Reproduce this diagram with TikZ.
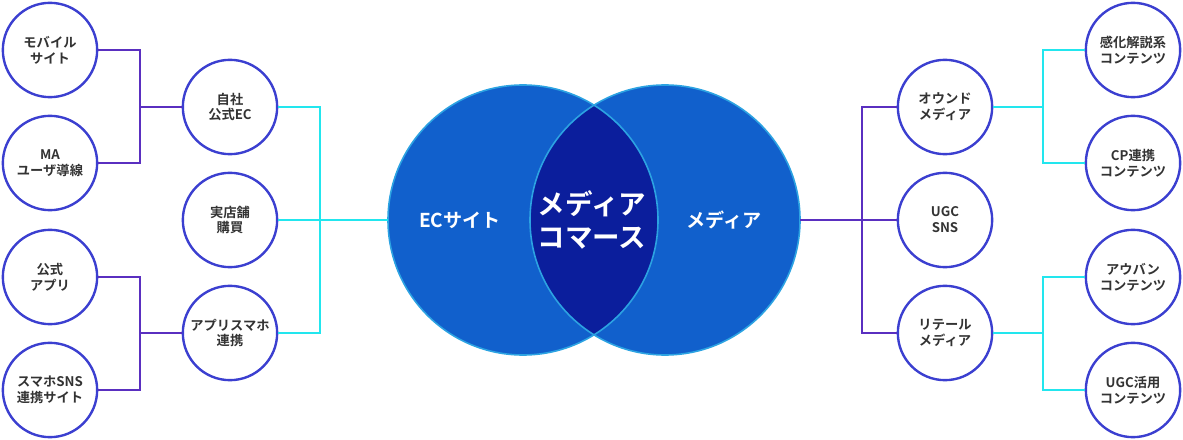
\documentclass[tikz,border=0pt]{standalone}
\usepackage{fontspec}
\setmainfont{Noto Sans CJK JP}[BoldFont=* Bold]
\usetikzlibrary{positioning}
\definecolor{ringblue}{HTML}{3B3FD0}
\definecolor{linkpurple}{HTML}{5A2FC0}
\definecolor{linkcyan}{HTML}{22E6EE}
\definecolor{ecblue}{HTML}{1160CC}
\definecolor{lensblue}{HTML}{0B1E9C}
\tikzset{
  bubble/.style={circle, draw=ringblue, line width=1.8pt, fill=white, minimum size=2.5cm,
    align=center, font=\bfseries\normalsize, text=black!80, inner sep=0pt},
  purplelink/.style={draw=linkpurple, line width=1.6pt},
  cyanlink/.style={draw=linkcyan, line width=1.6pt}
}
\begin{document}
\begin{tikzpicture}[x=0.0265cm, y=-0.0265cm]
\useasboundingbox (0,0) rectangle (1183,440);

% Big circles
\coordinate (ecc) at (523,220);
\coordinate (mdc) at (665,220);
\fill[ecblue] (ecc) circle (135);
\fill[ecblue] (mdc) circle (135);
\begin{scope}
  \clip (ecc) circle (135);
  \fill[lensblue] (mdc) circle (135);
\end{scope}
\draw[linkcyan!60!ringblue, line width=1.2pt] (ecc) circle (135);
\draw[linkcyan!60!ringblue, line width=1.2pt] (mdc) circle (135);
\node[text=white, font=\bfseries\Large] (ec) at (460,220) {ECサイト};
\node[text=white, font=\bfseries\huge, align=center] (mc) at (592,220) {メディア\\コマース};
\node[text=white, font=\bfseries\Large] (md) at (724,220) {メディア};
\coordinate (ecw) at (388,220);
\coordinate (mde) at (800,220);

% Left side
\node[bubble] (mob) at (50,50) {モバイル\\サイト};
\node[bubble] (ma)  at (50,163) {MA\\ユーザ導線};
\node[bubble] (app) at (50,277) {公式\\アプリ};
\node[bubble] (sns) at (50,390) {スマホSNS\\連携サイト};
\node[bubble] (own) at (230,107) {自社\\公式EC};
\node[bubble] (shop) at (230,220) {実店舗\\購買};
\node[bubble] (link) at (230,333) {アプリスマホ\\連携};

\draw[purplelink] (mob.east) -| (140,107) |- (ma.east);
\draw[purplelink] (140,107) -- (own.west);
\draw[purplelink] (app.east) -| (140,333) |- (sns.east);
\draw[purplelink] (140,333) -- (link.west);
\draw[cyanlink] (own.east) -| (320,220) |- (link.east);
\draw[cyanlink] (shop.east) -- (ecw);

% Right side
\node[bubble] (owned) at (945,107) {オウンド\\メディア};
\node[bubble] (ugc)   at (945,220) {UGC\\SNS};
\node[bubble] (ret)   at (945,333) {リテール\\メディア};
\node[bubble] (expl)  at (1133,50) {感化解説系\\コンテンツ};
\node[bubble] (cp)    at (1133,163) {CP連携\\コンテンツ};
\node[bubble] (auban) at (1133,277) {アウバン\\コンテンツ};
\node[bubble] (ugcu)  at (1133,390) {UGC活用\\コンテンツ};

\draw[purplelink] (owned.west) -| (862,220) |- (ret.west);
\draw[purplelink] (mde) -- (ugc.west);
\draw[cyanlink] (expl.west) -| (1043,107) |- (cp.west);
\draw[cyanlink] (1043,107) -- (owned.east);
\draw[cyanlink] (auban.west) -| (1043,333) |- (ugcu.west);
\draw[cyanlink] (1043,333) -- (ret.east);
\end{tikzpicture}
\end{document}
